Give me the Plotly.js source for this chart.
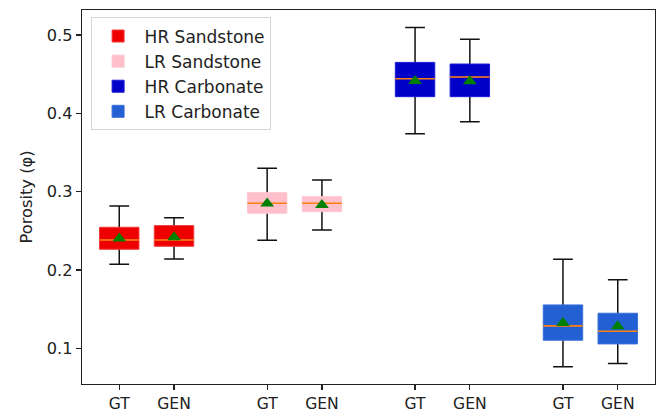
<!DOCTYPE html>
<html>
<head>
<meta charset="utf-8">
<script src="https://cdn.plot.ly/plotly-3.0.1.min.js"></script>
<style>
  html, body { margin: 0; padding: 0; background: #ffffff; }
  #chart { width: 661px; height: 416px; }
</style>
</head>
<body>
<div id="chart"></div>
<script>
// Rock types and the two sources compared for each
const categories = ['HR Sandstone', 'LR Sandstone', 'HR Carbonate', 'LR Carbonate'];
const sources = ['GT', 'GEN'];

// Box positions along the x axis (GT, GEN) for each rock type
const positions = [[1, 2], [3.7, 4.7], [6.4, 7.4], [9.1, 10.1]];

// Porosity statistics, [GT, GEN] per rock type
const lowerWhisker = [[0.2072, 0.2140], [0.2379, 0.2511], [0.3740, 0.3893], [0.0762, 0.0804]];
const q1Values     = [[0.2264, 0.2302], [0.2724, 0.2744], [0.4213, 0.4213], [0.1102, 0.1055]];
const medians      = [[0.2383, 0.2383], [0.2851, 0.2851], [0.4442, 0.4464], [0.1285, 0.1217]];
const q3Values     = [[0.2545, 0.2566], [0.2987, 0.2936], [0.4651, 0.4630], [0.1553, 0.1447]];
const upperWhisker = [[0.2817, 0.2668], [0.3298, 0.3149], [0.5098, 0.4945], [0.2136, 0.1876]];
const means        = [[0.2400, 0.2417], [0.2850, 0.2830], [0.4413, 0.4410], [0.1323, 0.1280]];

// Y axis ticks
const yTicks = [0.1, 0.2, 0.3, 0.4, 0.5];

// Styling
const fillColors = ['#ee0000', '#ffc0cb', '#0000c8', '#2260d4'];
const edgeColors = ['#f03a3a', '#ffc6d0', '#1c1cd6', '#3a70da'];
const boxWidth = 0.72;
const font = 'DejaVu Sans';

const traces = [];

categories.forEach((name, i) => {
  const x = positions[i];
  // whiskers and caps (drawn behind the box)
  traces.push({
    type: 'box', x: x,
    q1: medians[i], median: medians[i], q3: medians[i],
    lowerfence: lowerWhisker[i], upperfence: upperWhisker[i],
    width: boxWidth, whiskerwidth: 0.5, boxpoints: false,
    line: { color: '#111111', width: 1.5 },
    fillcolor: 'rgba(0,0,0,0)',
    showlegend: false, hoverinfo: 'skip'
  });
  // filled interquartile box
  traces.push({
    type: 'box', name: name, x: x,
    q1: q1Values[i], median: medians[i], q3: q3Values[i],
    lowerfence: q1Values[i], upperfence: q3Values[i],
    width: boxWidth, whiskerwidth: 0, boxpoints: false,
    line: { color: edgeColors[i], width: 1 },
    fillcolor: fillColors[i],
    showlegend: true, legendgroup: name, hoverinfo: 'skip'
  });
  // median line
  traces.push({
    type: 'box', x: x,
    q1: medians[i], median: medians[i], q3: medians[i],
    lowerfence: medians[i], upperfence: medians[i],
    width: boxWidth, whiskerwidth: 0, boxpoints: false,
    line: { color: '#ff7f0e', width: 1.6 },
    fillcolor: 'rgba(0,0,0,0)',
    showlegend: false, hoverinfo: 'skip'
  });
});

// mean markers
categories.forEach((name, i) => {
  traces.push({
    type: 'scatter', mode: 'markers',
    x: positions[i], y: means[i],
    marker: { symbol: 'triangle-up', size: 12, color: '#008000', line: { width: 0 } },
    showlegend: false, hoverinfo: 'skip'
  });
});

const tickVals = positions.flat();
const tickText = positions.flatMap(() => sources);

const layout = {
  width: 661, height: 416,
  margin: { l: 82, r: 6, t: 10, b: 32 },
  paper_bgcolor: '#ffffff', plot_bgcolor: '#ffffff',
  font: { family: font, size: 16, color: '#222222' },
  boxmode: 'overlay',
  showlegend: true,
  legend: {
    x: 0.015, y: 0.98, xanchor: 'left', yanchor: 'top',
    bgcolor: 'rgba(255,255,255,0.85)', bordercolor: '#d4d4d4', borderwidth: 1,
    font: { family: font, size: 17, color: '#222222' },
    tracegroupgap: 0, itemwidth: 43
  },
  xaxis: {
    range: [0.32, 10.78],
    tickmode: 'array', tickvals: tickVals, ticktext: tickText,
    ticks: 'outside', ticklen: 5, tickwidth: 1.2, tickcolor: '#222222',
    tickfont: { family: font, size: 15.6, color: '#222222' },
    showgrid: false, zeroline: false,
    showline: true, mirror: true, linecolor: '#222222', linewidth: 1.2
  },
  yaxis: {
    range: [0.0543, 0.532],
    tickmode: 'array', tickvals: yTicks, ticktext: yTicks.map(v => v.toFixed(1)),
    ticks: 'outside', ticklen: 5, tickwidth: 1.2, tickcolor: '#222222',
    tickfont: { family: font, size: 16.2, color: '#222222' },
    showgrid: false, zeroline: false,
    showline: true, mirror: true, linecolor: '#222222', linewidth: 1.2,
    title: { text: 'Porosity (φ)', font: { family: font, size: 16.3, color: '#222222' }, standoff: 10 }
  }
};

Plotly.newPlot('chart', traces, layout, { displayModeBar: false, staticPlot: true });
</script>
</body>
</html>
